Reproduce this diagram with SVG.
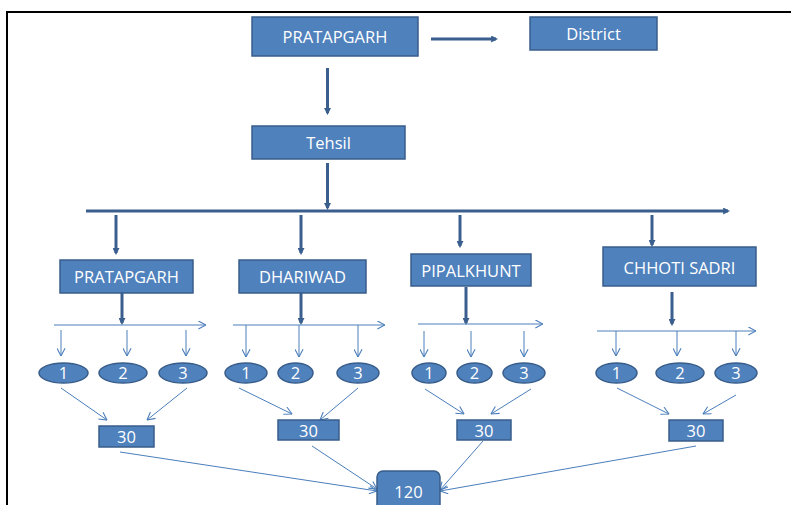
<svg xmlns="http://www.w3.org/2000/svg" width="791" height="505" viewBox="0 0 791 505">
<style>
.box{fill:#4F81BD;stroke:#385D8A;stroke-width:1.5}
.t{font-family:"Open Sans","Liberation Sans",sans-serif;font-size:16.5px;fill:#FFFFFF;text-anchor:middle}
.thick{stroke:#3A5F8E;stroke-width:3;fill:none;marker-end:url(#ah)}
.thin{stroke:#4A7EBB;stroke-width:1;fill:none;marker-end:url(#oh)}
</style>
<defs>
<marker id="ah" viewBox="0 0 10 10" markerUnits="userSpaceOnUse" markerWidth="7" markerHeight="7" refX="7" refY="5" orient="auto">
<path d="M0,0 L10,5 L0,10 z" fill="#3A5F8E"/>
</marker>
<marker id="oh" viewBox="0 0 10 10" markerUnits="userSpaceOnUse" markerWidth="9" markerHeight="9" refX="9.5" refY="5" orient="auto">
<path d="M1,0.5 L9.5,5 L1,9.5" fill="none" stroke="#4A7EBB" stroke-width="1.2"/>
</marker>
</defs>
<rect width="791" height="505" fill="#FFFFFF"/>
<path d="M7,505 L7,12 L791,12" fill="none" stroke="#000000" stroke-width="2"/>

<g id="connectors">
<line class="thick" x1="431" y1="39" x2="496" y2="39"/>
<line class="thick" x1="327.5" y1="68" x2="327.5" y2="113"/>
<line class="thick" x1="327.5" y1="163" x2="327.5" y2="208"/>
<line class="thick" x1="86" y1="211" x2="728" y2="211"/>
<line class="thick" x1="116" y1="215" x2="116" y2="253"/>
<line class="thick" x1="301" y1="215" x2="301" y2="253"/>
<line class="thick" x1="460" y1="215" x2="460" y2="246"/>
<line class="thick" x1="652" y1="215" x2="652" y2="245"/>
<line class="thick" x1="122" y1="293" x2="122" y2="323"/>
<line class="thick" x1="301" y1="293" x2="301" y2="323"/>
<line class="thick" x1="466" y1="287" x2="466" y2="323"/>
<line class="thick" x1="672" y1="292" x2="672" y2="324"/>

<line class="thin" x1="54" y1="325" x2="206" y2="325"/>
<line class="thin" x1="233" y1="325" x2="385" y2="325"/>
<line class="thin" x1="418" y1="324" x2="543" y2="324"/>
<line class="thin" x1="597" y1="331" x2="756" y2="331"/>

<line class="thin" x1="61" y1="330" x2="61" y2="356"/>
<line class="thin" x1="127" y1="330" x2="127" y2="356"/>
<line class="thin" x1="186" y1="330" x2="186" y2="356"/>
<line class="thin" x1="246" y1="325" x2="246" y2="357"/>
<line class="thin" x1="299" y1="325" x2="299" y2="357"/>
<line class="thin" x1="358" y1="325" x2="358" y2="357"/>
<line class="thin" x1="424" y1="331" x2="424" y2="357"/>
<line class="thin" x1="471" y1="331" x2="471" y2="357"/>
<line class="thin" x1="524" y1="331" x2="524" y2="357"/>
<line class="thin" x1="616" y1="331" x2="616" y2="356"/>
<line class="thin" x1="677" y1="331" x2="677" y2="356"/>
<line class="thin" x1="736" y1="331" x2="736" y2="356"/>

<line class="thin" x1="61" y1="388" x2="107" y2="420"/>
<line class="thin" x1="187" y1="388" x2="147" y2="420"/>
<line class="thin" x1="239" y1="388" x2="292" y2="414"/>
<line class="thin" x1="358" y1="388" x2="320" y2="420"/>
<line class="thin" x1="425" y1="389" x2="464" y2="414"/>
<line class="thin" x1="531" y1="389" x2="491" y2="414"/>
<line class="thin" x1="617" y1="388" x2="669" y2="414"/>
<line class="thin" x1="736" y1="395" x2="703" y2="414"/>

<line class="thin" x1="120" y1="452" x2="377" y2="491"/>
<line class="thin" x1="312" y1="446" x2="377" y2="489"/>
<line class="thin" x1="483" y1="441" x2="440" y2="490"/>
<line class="thin" x1="696" y1="446" x2="440" y2="491"/>
</g>

<g id="n-pratapgarh-top"><rect class="box" x="252" y="17" width="166" height="39"/><text class="t" x="335" y="43">PRATAPGARH</text></g>
<g id="n-district"><rect class="box" x="530" y="17" width="127" height="33"/><text class="t" x="593.5" y="40">District</text></g>
<g id="n-tehsil"><rect class="box" x="252" y="126" width="153" height="33"/><text class="t" x="328.5" y="149">Tehsil</text></g>

<g id="n-pratapgarh"><rect class="box" x="60" y="260" width="133" height="33"/><text class="t" x="126.5" y="283">PRATAPGARH</text></g>
<g id="n-dhariwad"><rect class="box" x="239" y="260" width="127" height="33"/><text class="t" x="302.5" y="283">DHARIWAD</text></g>
<g id="n-pipalkhunt"><rect class="box" x="411" y="254" width="120" height="32"/><text class="t" x="471" y="277">PIPALKHUNT</text></g>
<g id="n-chhoti-sadri"><rect class="box" x="603" y="247" width="153" height="39"/><text class="t" x="679.5" y="274">CHHOTI SADRI</text></g>

<g id="n-p1"><ellipse class="box" cx="63.5" cy="373" rx="24.5" ry="10"/><text class="t" x="63.5" y="379">1</text></g>
<g id="n-p2"><ellipse class="box" cx="123" cy="373" rx="24" ry="10"/><text class="t" x="123" y="379">2</text></g>
<g id="n-p3"><ellipse class="box" cx="183" cy="373" rx="24" ry="10"/><text class="t" x="183" y="379">3</text></g>
<g id="n-d1"><ellipse class="box" cx="246" cy="373" rx="21" ry="10"/><text class="t" x="246" y="379">1</text></g>
<g id="n-d2"><ellipse class="box" cx="295.5" cy="373" rx="17.5" ry="10"/><text class="t" x="295.5" y="379">2</text></g>
<g id="n-d3"><ellipse class="box" cx="358" cy="373" rx="21" ry="10"/><text class="t" x="358" y="379">3</text></g>
<g id="n-k1"><ellipse class="box" cx="429" cy="373" rx="17" ry="10"/><text class="t" x="429" y="379">1</text></g>
<g id="n-k2"><ellipse class="box" cx="474.5" cy="373" rx="17.5" ry="10"/><text class="t" x="474.5" y="379">2</text></g>
<g id="n-k3"><ellipse class="box" cx="524" cy="373" rx="21" ry="10"/><text class="t" x="524" y="379">3</text></g>
<g id="n-c1"><ellipse class="box" cx="616.5" cy="373" rx="20.5" ry="10"/><text class="t" x="616.5" y="379">1</text></g>
<g id="n-c2"><ellipse class="box" cx="680" cy="373" rx="24" ry="10"/><text class="t" x="680" y="379">2</text></g>
<g id="n-c3"><ellipse class="box" cx="736" cy="373" rx="21" ry="10"/><text class="t" x="736" y="379">3</text></g>

<g id="n-30a"><rect class="box" x="99" y="426" width="55" height="21"/><text class="t" x="126.5" y="443">30</text></g>
<g id="n-30b"><rect class="box" x="278" y="420" width="61" height="20"/><text class="t" x="308.5" y="437">30</text></g>
<g id="n-30c"><rect class="box" x="457" y="420" width="54" height="20"/><text class="t" x="484" y="437">30</text></g>
<g id="n-30d"><rect class="box" x="669" y="420" width="54" height="21"/><text class="t" x="696" y="437">30</text></g>

<g id="n-120"><rect class="box" x="377" y="471" width="63" height="45" rx="6" ry="6"/><text class="t" x="408.5" y="498">120</text></g>
</svg>
